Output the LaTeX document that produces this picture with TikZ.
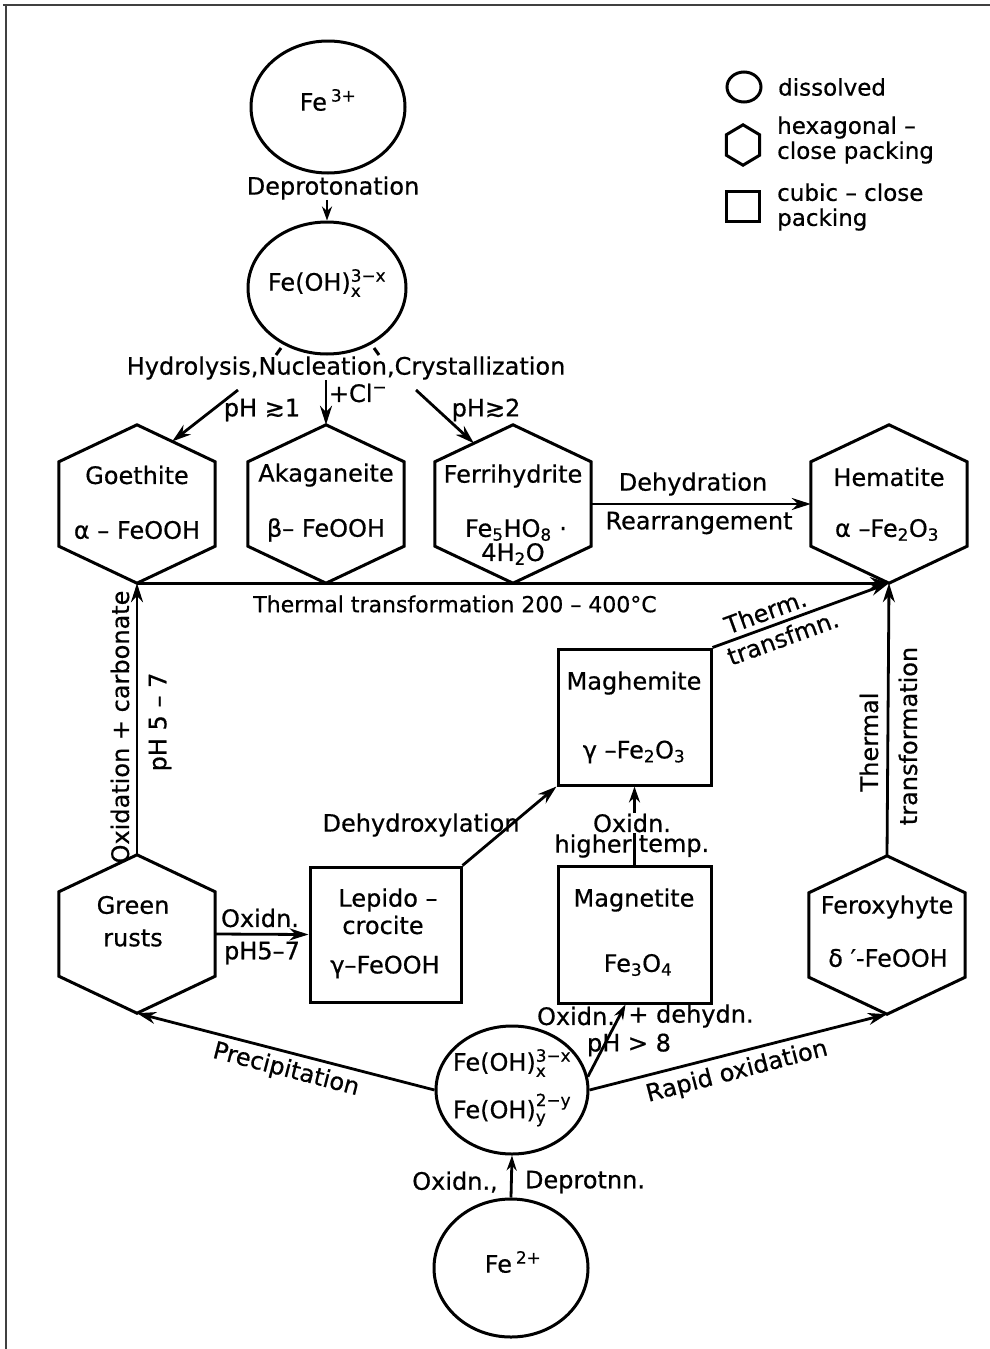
\documentclass[tikz,border=0pt]{standalone}
\usepackage{fontspec}
\setmainfont{DejaVu Sans}
\usepackage{amsmath}
\usetikzlibrary{shapes.geometric,arrows.meta,calc}
\newcommand{\chemss}[2]{$^{\text{#1}}_{\text{#2}}$}
\tikzset{
  lbl/.style={inner sep=0pt, font=\fontsize{24}{28}\selectfont\addfontfeature{FakeBold=0.6}},
  lgd/.style={inner sep=0pt, font=\fontsize{23}{25}\selectfont\addfontfeature{FakeBold=0.6}, anchor=west, align=left},
  shapeline/.style={line width=3pt, line join=miter},
  arr/.style={line width=2.8pt, -{Stealth[length=19pt,width=12pt]}},
  circ/.style={ellipse, draw, line width=3pt, inner sep=0pt},
  hexbox/.style={rectangle, draw=none, inner sep=0pt},
  sqbox/.style={rectangle, draw, line width=3pt, inner sep=0pt},
  framel/.style={line width=2.2pt, black!75}
}
\newcommand{\hexa}[6]{%
  \node[hexbox, minimum width=#4pt, minimum height=#5pt] (#1) at (#2,#3) {};
  \coordinate (#1-ne) at ([yshift=-#6pt]#1.north east);
  \coordinate (#1-se) at ([yshift=#6pt]#1.south east);
  \coordinate (#1-sw) at ([yshift=#6pt]#1.south west);
  \coordinate (#1-nw) at ([yshift=-#6pt]#1.north west);
  \draw[shapeline] (#1.north) -- (#1-ne) -- (#1-se) -- (#1.south) -- (#1-sw) -- (#1-nw) -- cycle;}
\begin{document}
\begin{tikzpicture}[x=1pt,y=-1pt]
\useasboundingbox (0,0) rectangle (990,1349);
\draw[framel] (3,5) -- (990,5);
\draw[framel] (6,5) -- (6,1349);

% legend
\node[circ, minimum width=34pt, minimum height=30pt] (lgc) at (744,87) {};
\node[lgd] (lgct) at (778,87) {dissolved};
\hexa{lgh}{743}{145}{33}{40}{10}
\node[lgd] (lght) at (777,140) {hexagonal –\\close packing};
\node[sqbox, minimum width=33pt, minimum height=30pt] (lgs) at (743,206) {};
\node[lgd] (lgst) at (777,207) {cubic – close\\packing};

% circles
\node[circ, minimum width=154pt, minimum height=132pt] (fe3) at (328,107) {};
\node[circ, minimum width=158pt, minimum height=132pt] (feohx) at (327,288) {};
\node[circ, minimum width=152pt, minimum height=128pt] (feohxy) at (512,1090) {};
\node[circ, minimum width=154pt, minimum height=138pt] (fe2) at (511,1268) {};

% hexagons
\hexa{goe}{137}{504}{156}{158}{37}
\hexa{aka}{326}{504}{156}{158}{37}
\hexa{fer}{513}{504}{156}{158}{37}
\hexa{hem}{889}{504}{156}{158}{37}
\hexa{gr}{137}{934}{156}{158}{37}
\hexa{fx}{887}{935}{156}{158}{37}

% squares
\node[sqbox, minimum width=151pt, minimum height=135pt] (lep) at (385.5,934.5) {};
\node[sqbox, minimum width=153pt, minimum height=136pt] (magh) at (634.5,717) {};
\node[sqbox, minimum width=153pt, minimum height=137pt] (mag) at (634.5,934.5) {};

% top texts
\node[lbl] (fe3t) at (328,100) {Fe\,\textsuperscript{3+}};
\node[lbl] (deprot) at (333,188) {Deprotonation};
\node[lbl] (feohxt) at (327,283) {Fe(OH)\chemss{3−x}{x}};
\node[lbl] (hyd) at (346,368) {Hydrolysis,Nucleation,Crystallization};

% arrows top
\draw[arr, -{Stealth[length=14pt,width=10pt]}] (deprot.south -| feohx.north) -- (feohx.north);
\draw[shapeline] (281,348) -- (276,355);
\draw[shapeline] (374,348) -- (379,355);
\coordinate (a1s) at (238,390);
\coordinate (a2s) at (326,380);
\coordinate (a3s) at (416,390);
\draw[arr] (a1s) -- ($(goe.north)!0.45!(goe-ne)$);
\draw[arr] (a2s) -- (aka.north);
\draw[arr] (a3s) -- ($(fer.north)!0.5!(fer-nw)$);
\node[lbl] (ph1) at (262,410) {pH ≳1};
\node[lbl] (cl) at (358,393) {+Cl\textsuperscript{−}};
\node[lbl] (ph2) at (486,410) {pH≳2};

% hexagon texts
\node[lbl] (goeT1) at (137,475) {Goethite};
\node[lbl] (goeT2) at (137,530) {α – FeOOH};
\node[lbl] (akaT1) at (326,475) {Akaganeite};
\node[lbl] (akaT2) at (326,530) {β– FeOOH};
\node[lbl] (ferT1) at (513,476) {Ferrihydrite};
\node[lbl] (ferT2) at (516,530) {Fe\textsubscript{5}HO\textsubscript{8} ·};
\node[lbl] (ferT3) at (513,554) {4H\textsubscript{2}O};
\node[lbl] (hemT1) at (889,477) {Hematite};
\node[lbl] (hemT2) at (887,530) {α –Fe\textsubscript{2}O\textsubscript{3}};

% hexagon row connectors
\draw[arr] (fer.east) -- (hem.west);
\node[lbl] (dehyd) at (693,484) {Dehydration};
\node[lbl] (rearr) at (699,523) {Rearrangement};
\draw[arr] (goe.south) -- (hem.south);
\node[lbl, font=\fontsize{22}{26}\selectfont\addfontfeature{FakeBold=0.6}] (thermal) at (455,604) {Thermal transformation 200 – 400°C};

% left column
\draw[arr] (gr.north) -- (goe.south);
\node[lbl, rotate=90] (oxcarb) at (120,727) {Oxidation + carbonate};
\node[lbl, rotate=90] (ph57a) at (160,722) {pH 5 – 7};
\node[lbl] (grT1) at (133,905) {Green};
\node[lbl] (grT2) at (133,938) {rusts};

\draw[arr] (gr.east) -- (lep.west);
\node[lbl] (oxidn1) at (260,918) {Oxidn.};
\node[lbl] (ph57b) at (262,953) {pH5–7};
\node[lbl] (lepT1) at (388,900) {Lepido –};
\node[lbl] (lepT2) at (383,925) {crocite};
\node[lbl] (lepT3) at (385,967) {γ–FeOOH};

\draw[arr] (lep.north east) -- (magh.south west);
\node[lbl] (dehydrox) at (421,825) {Dehydroxylation};

% middle column
\node[lbl] (maghT1) at (634,683) {Maghemite};
\node[lbl] (maghT2) at (634,752) {γ –Fe\textsubscript{2}O\textsubscript{3}};
\draw[arr, -{Stealth[length=16pt,width=11pt]}] (mag.north) -- (magh.south);
\node[lbl, fill=white, inner sep=1pt] (oxhi1) at (632,823) {Oxidn.};
\node[lbl, fill=white, inner sep=1pt] (oxhi2a) at (593,846) {higher};
\node[lbl, fill=white, inner sep=1pt] (oxhi2b) at (674,846) {temp.};
\node[lbl] (magT1) at (634,900) {Magnetite};
\node[lbl] (magT2) at (638,965) {Fe\textsubscript{3}O\textsubscript{4}};

\draw[arr] (magh.north east) -- (hem.south)
  node[lbl, pos=0.33, above=5pt, sloped] (therm1) {Therm.}
  node[lbl, pos=0.37, below=4pt, sloped] (therm2) {transfmn.};

% right column
\draw[arr] (fx.north) -- (hem.south);
\node[lbl, rotate=90] (thr1) at (869,742) {Thermal};
\node[lbl, rotate=90] (thr2) at (908,736) {transformation};
\node[lbl] (fxT1) at (887,907) {Feroxyhyte};
\node[lbl] (fxT2) at (888,958) {δ ′-FeOOH};

% bottom
\node[lbl] (xyT1) at (512,1063) {Fe(OH)\chemss{3−x}{x}};
\node[lbl] (xyT2) at (512,1110) {Fe(OH)\chemss{2−y}{y}};
\draw[arr] (feohxy.west) -- (gr.south);
\draw[arr] (feohxy.east) -- (fx.south);
\draw[arr, -{Stealth[length=15pt,width=10pt]}] (feohxy.10) -- ([xshift=-9pt]mag.south);
\node[lbl] (oxd1) at (576,1016) {Oxidn.};
\node[lbl] (oxd2) at (691,1016) {+ dehydn.};
\node[lbl] (ph8) at (629,1045) {pH > 8};
\node[lbl, rotate=-14.6] (precip) at (286,1070) {Precipitation};
\node[lbl, rotate=14.6] (rapid) at (737,1072) {Rapid oxidation};
\draw[arr, -{Stealth[length=15pt,width=10pt]}] (fe2.north) -- (feohxy.south);
\node[lbl] (oxl) at (455,1182) {Oxidn.,};
\node[lbl] (dep) at (585,1182) {Deprotnn.};
\node[lbl] (fe2t) at (513,1262) {Fe\,\textsuperscript{2+}};
\end{tikzpicture}
\end{document}
